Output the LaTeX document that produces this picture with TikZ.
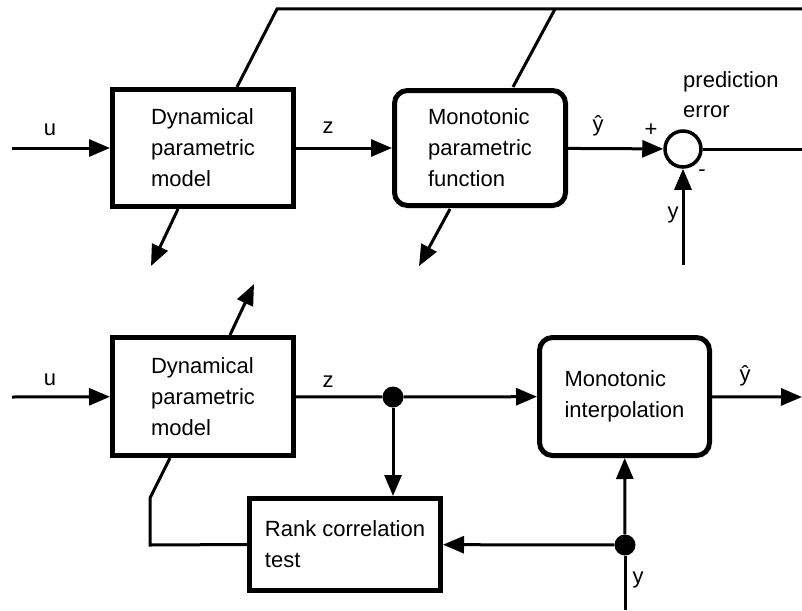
\documentclass[tikz,border=0pt]{standalone}
\usepackage{fontspec}
\setmainfont{Liberation Sans}
\usetikzlibrary{arrows.meta,calc}
\begin{document}
\begin{tikzpicture}[x=1pt,y=-1pt,
  blk/.style={draw,line width=5pt,inner sep=0pt,align=left,fill=white,
    font=\fontsize{22}{31}\selectfont},
  rblk/.style={blk,rounded corners=13pt},
  conn/.style={line width=3pt},
  arr/.style={conn,-{Triangle[length=21pt,width=17pt]}},
  lbl/.style={inner sep=0pt,font=\fontsize{22}{30}\selectfont},
  dot/.style={circle,fill,minimum size=21pt,inner sep=0pt},
]
\useasboundingbox (0,0) rectangle (802,610);

% ---------- top diagram ----------
\node[blk,minimum width=181pt,minimum height=117pt] (b1) at (203,148) {Dynamical\\parametric\\model};
\node[rblk,minimum width=171pt,minimum height=115pt] (b2) at (480,148) {Monotonic\\parametric\\function};
\node[circle,draw,line width=3.5pt,minimum size=36pt,inner sep=0pt] (sum) at (683,149) {};

\coordinate (uin1) at (12,148);
\coordinate (out1) at (802,149);
\coordinate (yin1) at (683,265);
\coordinate (t1) at (237,87);
\coordinate (t2) at (277,9);
\coordinate (tend) at (802,9);
\coordinate (t3) at (513,87);
\coordinate (t4) at (555,9);
\coordinate (p1s) at (178,209);
\coordinate (p1e) at (151,266);
\coordinate (p2s) at (450,209);
\coordinate (p2e) at (419,266);

\draw[arr] (uin1) -- (b1);
\draw[arr] (b1) -- (b2);
\draw[arr] (b2) -- (sum);
\draw[conn] (sum) -- (out1);
\draw[arr] (yin1) -- (sum);
\draw[conn] (t1) -- (t2) -- (tend);
\draw[conn] (t3) -- (t4);
\draw[arr] (p1s) -- (p1e);
\draw[arr] (p2s) -- (p2e);

\node[lbl] (lu1) at (50,130) {u};
\node[lbl] (lz1) at (328,128) {z};
\node[lbl] (lyh1) at (598,126) {\^{y}};
\node[lbl] (lplus) at (651,130) {+};
\node[lbl] (lminus) at (702,173) {-};
\node[lbl] (ly1) at (673,215) {y};
\node[lbl,align=left,anchor=west] (lpe) at (683,95) {prediction\\error};

% ---------- bottom diagram ----------
\node[blk,minimum width=181pt,minimum height=118pt] (b3) at (203,396.5) {Dynamical\\parametric\\model};
\node[rblk,minimum width=170pt,minimum height=118pt] (b4) at (624.5,396.5) {Monotonic\\interpolation};
\node[blk,minimum width=191pt,minimum height=92pt] (b5) at (345,544.5) {Rank correlation\\test};
\node[dot] (d1) at (393,397) {};
\node[dot] (d2) at (625,545) {};

\coordinate (uin2) at (12,397);
\coordinate (out2) at (802,397);
\coordinate (yin2) at (625,610);
\coordinate (q1s) at (230,335);
\coordinate (q1e) at (254,284);
\coordinate (f1) at (150,545);
\coordinate (f2) at (150,498);
\coordinate (f3) at (170,458);

\draw[arr] (uin2) -- (b3);
\draw[conn] (b3) -- (d1);
\draw[arr] (d1) -- (b4);
\draw[arr] (b4) -- (out2);
\draw[arr] (d1) -- (d1 |- b5.north);
\draw[conn] (yin2) -- (d2);
\draw[arr] (d2) -- (b4);
\draw[arr] (d2) -- (b5);
\draw[conn] (b5.west) -- (f1) -- (f2) -- (f3);
\draw[arr] (q1s) -- (q1e);

\node[lbl] (lu2) at (50,380) {u};
\node[lbl] (lz2) at (328,382) {z};
\node[lbl] (lyh2) at (745,376) {\^{y}};
\node[lbl] (ly2) at (638,580) {y};
\end{tikzpicture}
\end{document}
